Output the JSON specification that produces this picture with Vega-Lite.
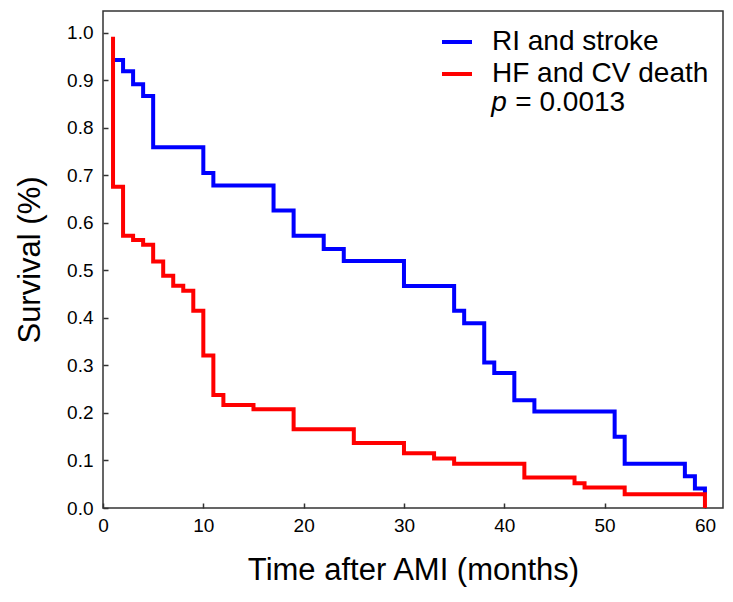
{
  "$schema": "https://vega.github.io/schema/vega-lite/v6.json",
  "width": 620,
  "height": 497,
  "autosize": {"type": "none"},
  "padding": {"left": 103, "top": 11, "right": 10, "bottom": 94},
  "background": "white",
  "config": {
    "view": {"stroke": "#333333", "strokeWidth": 1.5},
    "font": "Liberation Sans",
    "axis": {
      "grid": false,
      "domain": false,
      "tickColor": "#333333",
      "tickWidth": 1.5,
      "tickSize": -5,
      "labelFontSize": 19,
      "labelColor": "black",
      "labelFont": "Liberation Sans",
      "titleFont": "Liberation Sans",
      "titleFontSize": 31,
      "titleFontWeight": "normal",
      "titleColor": "black",
      "labelFlush": false,
      "labelOverlap": false
    }
  },
  "datasets": {
    "km": [
      {"group": "RI and stroke", "time": 1, "survival": 0.943},
      {"group": "RI and stroke", "time": 2, "survival": 0.919},
      {"group": "RI and stroke", "time": 3, "survival": 0.892},
      {"group": "RI and stroke", "time": 4, "survival": 0.867},
      {"group": "RI and stroke", "time": 5, "survival": 0.759},
      {"group": "RI and stroke", "time": 10, "survival": 0.705},
      {"group": "RI and stroke", "time": 11, "survival": 0.679},
      {"group": "RI and stroke", "time": 17, "survival": 0.626},
      {"group": "RI and stroke", "time": 19, "survival": 0.573},
      {"group": "RI and stroke", "time": 22, "survival": 0.545},
      {"group": "RI and stroke", "time": 24, "survival": 0.52},
      {"group": "RI and stroke", "time": 30, "survival": 0.467},
      {"group": "RI and stroke", "time": 35, "survival": 0.415},
      {"group": "RI and stroke", "time": 36, "survival": 0.389},
      {"group": "RI and stroke", "time": 38, "survival": 0.306},
      {"group": "RI and stroke", "time": 39, "survival": 0.284},
      {"group": "RI and stroke", "time": 41, "survival": 0.227},
      {"group": "RI and stroke", "time": 43, "survival": 0.203},
      {"group": "RI and stroke", "time": 51, "survival": 0.15},
      {"group": "RI and stroke", "time": 52, "survival": 0.093},
      {"group": "RI and stroke", "time": 58, "survival": 0.067},
      {"group": "RI and stroke", "time": 59, "survival": 0.041},
      {"group": "RI and stroke", "time": 60, "survival": 0.029},
      {"group": "HF and CV death", "time": 1, "survival": 0.992},
      {"group": "HF and CV death", "time": 1, "survival": 0.676},
      {"group": "HF and CV death", "time": 2, "survival": 0.573},
      {"group": "HF and CV death", "time": 3, "survival": 0.564},
      {"group": "HF and CV death", "time": 4, "survival": 0.554},
      {"group": "HF and CV death", "time": 5, "survival": 0.519},
      {"group": "HF and CV death", "time": 6, "survival": 0.489},
      {"group": "HF and CV death", "time": 7, "survival": 0.468},
      {"group": "HF and CV death", "time": 8, "survival": 0.457},
      {"group": "HF and CV death", "time": 9, "survival": 0.415},
      {"group": "HF and CV death", "time": 10, "survival": 0.321},
      {"group": "HF and CV death", "time": 11, "survival": 0.238},
      {"group": "HF and CV death", "time": 12, "survival": 0.217},
      {"group": "HF and CV death", "time": 15, "survival": 0.208},
      {"group": "HF and CV death", "time": 19, "survival": 0.166},
      {"group": "HF and CV death", "time": 25, "survival": 0.137},
      {"group": "HF and CV death", "time": 30, "survival": 0.115},
      {"group": "HF and CV death", "time": 33, "survival": 0.104},
      {"group": "HF and CV death", "time": 35, "survival": 0.093},
      {"group": "HF and CV death", "time": 42, "survival": 0.064},
      {"group": "HF and CV death", "time": 47, "survival": 0.052},
      {"group": "HF and CV death", "time": 48, "survival": 0.043},
      {"group": "HF and CV death", "time": 52, "survival": 0.029},
      {"group": "HF and CV death", "time": 60, "survival": 0.029},
      {"group": "HF and CV death", "time": 60, "survival": 0}
    ]
  },
  "layer": [
    {
      "data": {"name": "km"},
      "transform": [{"filter": "datum.group === 'RI and stroke'"}],
      "mark": {"type": "line", "interpolate": "step-after", "strokeWidth": 4},
      "encoding": {
        "x": {
          "field": "time",
          "type": "quantitative",
          "scale": {"domain": [0, 61.8], "nice": false, "zero": false},
          "axis": {
            "values": [0, 10, 20, 30, 40, 50, 60],
            "format": "d",
            "labelPadding": 13,
            "title": "Time after AMI (months)",
            "titlePadding": 20
          }
        },
        "y": {
          "field": "survival",
          "type": "quantitative",
          "scale": {"domain": [0, 1.046], "nice": false},
          "axis": {
            "values": [0, 0.1, 0.2, 0.3, 0.4, 0.5, 0.6, 0.7, 0.8, 0.9, 1.0],
            "format": ".1f",
            "labelPadding": 15,
            "title": "Survival (%)",
            "titlePadding": 20
          }
        },
        "order": {"value": null},
        "color": {
          "field": "group",
          "type": "nominal",
          "scale": {"domain": ["RI and stroke", "HF and CV death"], "range": ["#0000ff", "#ff0000"]},
          "legend": {
            "orient": "top-right",
            "offset": 14,
            "title": null,
            "padding": 0,
            "symbolType": "stroke",
            "symbolStrokeWidth": 4,
            "symbolSize": 900,
            "labelFontSize": 28,
            "labelFont": "Liberation Sans",
            "labelColor": "black",
            "labelLimit": 400,
            "labelOffset": 18,
            "rowPadding": 1
          }
        }
      }
    },
    {
      "data": {"name": "km"},
      "transform": [{"filter": "datum.group === 'HF and CV death'"}],
      "mark": {"type": "line", "interpolate": "step-after", "strokeWidth": 4},
      "encoding": {
        "x": {"field": "time", "type": "quantitative"},
        "y": {"field": "survival", "type": "quantitative"},
        "order": {"value": null},
        "color": {"field": "group", "type": "nominal"}
      }
    },
    {
      "data": {"values": [{"label": "p"}]},
      "mark": {"type": "text", "align": "left", "baseline": "middle", "fontSize": 28, "fontStyle": "italic", "font": "Liberation Sans", "color": "black"},
      "encoding": {
        "x": {"datum": 38.7, "type": "quantitative"},
        "y": {"datum": 0.853, "type": "quantitative"},
        "text": {"field": "label"}
      }
    },
    {
      "data": {"values": [{"label": "= 0.0013"}]},
      "mark": {"type": "text", "align": "left", "baseline": "middle", "fontSize": 28, "font": "Liberation Sans", "color": "black"},
      "encoding": {
        "x": {"datum": 41.1, "type": "quantitative"},
        "y": {"datum": 0.853, "type": "quantitative"},
        "text": {"field": "label"}
      }
    }
  ]
}
